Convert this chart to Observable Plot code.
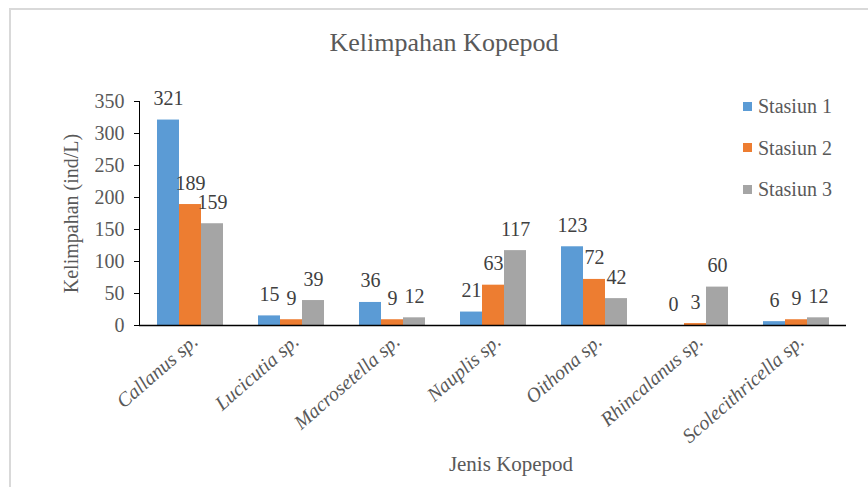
<!DOCTYPE html>
<html>
<head>
<meta charset="utf-8">
<script src="https://cdn.jsdelivr.net/npm/d3@7"></script>
<script src="https://cdn.jsdelivr.net/npm/@observablehq/plot@0.6"></script>
<style>
  html, body { margin: 0; padding: 0; background: #fff; }
  #wrap { position: relative; width: 868px; height: 487px; overflow: hidden; font-family: "Liberation Serif", "Times New Roman", serif; color: #595959; }
  #border { position: absolute; left: 9px; top: 8px; width: 900px; height: 520px; border-top: 2px solid #d9d9d9; border-left: 2px solid #d9d9d9; pointer-events: none; }
  #title { height: 70px; box-sizing: border-box; padding-top: 30px; padding-left: 20px; text-align: center; font-size: 26px; line-height: 26px; }
  #chart svg { display: block; }
  #caption { height: 37px; box-sizing: border-box; padding-top: 4px; padding-left: 154px; text-align: center; font-size: 21px; line-height: 21px; }
  #legend { position: absolute; left: 743px; top: 96px; font-size: 20px; line-height: 20px; }
  #legend .item { display: flex; align-items: center; height: 20px; margin-bottom: 21.5px; }
  #legend .sw { width: 9px; height: 9px; margin-right: 6px; }
  g[aria-label*="axis"] { fill: #595959; }
  g[aria-label="fx-axis tick label"] text { font-style: italic; }
</style>
</head>
<body>
<div id="wrap">
  <div id="border"></div>
  <div id="title">Kelimpahan Kopepod</div>
  <div id="chart"></div>
  <div id="caption">Jenis Kopepod</div>
  <div id="legend"></div>
</div>
<script>
const categories = ["Callanus sp.", "Lucicutia sp.", "Macrosetella sp.", "Nauplis sp.", "Oithona sp.", "Rhincalanus sp.", "Scolecithricella sp."];
const stations = ["Stasiun 1", "Stasiun 2", "Stasiun 3"];
const stasiun1 = [321, 15, 36, 21, 123, 0, 6];
const stasiun2 = [189, 9, 9, 63, 72, 3, 9];
const stasiun3 = [159, 39, 12, 117, 42, 60, 12];
const colors = ["#5B9BD5", "#ED7D31", "#A5A5A5"];
const yTicks = [0, 50, 100, 150, 200, 250, 300, 350];

const series = [stasiun1, stasiun2, stasiun3];
const rows = [];
categories.forEach((c, i) => stations.forEach((s, j) => rows.push({cat: c, station: s, value: series[j][i]})));

const chart = Plot.plot({
  width: 868,
  height: 380,
  marginLeft: 137,
  marginRight: 21,
  marginTop: 31,
  marginBottom: 125,
  style: {fontFamily: "'Liberation Serif', 'Times New Roman', serif", fontSize: "20px", color: "black", background: "transparent", overflow: "visible"},
  fx: {domain: categories, padding: 0, label: null},
  x: {domain: stations, paddingInner: 0, paddingOuter: 0.75, axis: null},
  y: {domain: [0, 350], ticks: yTicks, tickSize: 5, tickPadding: 10, line: true, label: "Kelimpahan (ind/L)", labelAnchor: "center", labelArrow: "none", labelOffset: 76},
  color: {domain: stations, range: colors},
  marks: [
    Plot.axisFx({anchor: "bottom", tickRotate: -41, tickSize: 0, tickPadding: 13, dx: 5, label: null, fontSize: 20, fontStyle: "italic"}),
    Plot.barY(rows, {fx: "cat", x: "station", y: "value", fill: "station"}),
    Plot.ruleY([0], {stroke: "black", strokeWidth: 1.5}),
    Plot.text(rows, {fx: "cat", x: "station", y: "value", text: d => String(d.value), dy: -15, lineAnchor: "bottom", fill: "#404040", fontSize: 20})
  ]
});
document.getElementById("chart").appendChild(chart);

const legend = document.getElementById("legend");
stations.forEach((s, i) => {
  const it = document.createElement("div");
  it.className = "item";
  const sw = document.createElement("span");
  sw.className = "sw";
  sw.style.background = colors[i];
  const t = document.createElement("span");
  t.textContent = s;
  it.appendChild(sw); it.appendChild(t);
  legend.appendChild(it);
});
</script>
</body>
</html>
